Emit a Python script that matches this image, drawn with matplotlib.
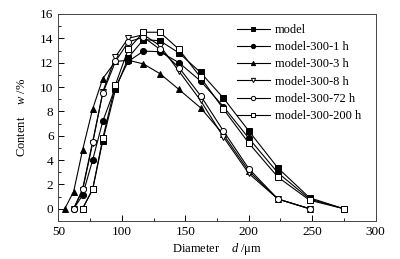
import matplotlib
matplotlib.use("Agg")
import matplotlib.pyplot as plt
from matplotlib.ticker import MultipleLocator

plt.rcParams['font.family'] = ['Liberation Serif', 'DejaVu Serif']
plt.rcParams['mathtext.fontset'] = 'custom'
plt.rcParams['mathtext.it'] = 'Liberation Serif:italic'
plt.rcParams['mathtext.rm'] = 'Liberation Serif'

diameter = [55, 62, 69, 77, 85, 95, 105, 117, 130, 145, 162, 180, 200, 223, 248, 275]

model_x = [69, 77, 85, 95, 105, 117, 130, 145, 162, 180, 200, 223, 248, 275]
model_y = [0, 1.6, 5.6, 9.8, 12.4, 13.9, 13.8, 12.8, 11.2, 9.1, 6.4, 3.35, 0.9, 0]

h1_x = [62, 69, 77, 85, 95, 105, 117, 130, 145, 162, 180, 200, 223, 248, 275]
h1_y = [0, 1.1, 4.0, 7.2, 10.0, 12.1, 12.95, 12.9, 12.0, 10.5, 8.4, 5.8, 2.95, 0.8, 0]

h3_x = [55, 62, 69, 77, 85, 95, 105, 117, 130, 145, 162, 180, 200, 223, 248]
h3_y = [0, 1.4, 4.8, 8.2, 10.7, 12.1, 12.2, 11.9, 11.1, 9.8, 8.3, 6.1, 3.1, 0.8, 0]

h8_x = [62, 69, 77, 85, 95, 105, 117, 130, 145, 162, 180, 200, 223, 248]
h8_y = [0, 1.5, 5.4, 9.6, 12.5, 14.0, 14.3, 13.4, 11.3, 8.9, 5.9, 2.9, 0.8, 0]

h72_x = [62, 69, 77, 85, 95, 105, 117, 130, 145, 162, 180, 200, 223, 248]
h72_y = [0, 1.6, 5.5, 9.5, 12.1, 13.7, 14.1, 13.1, 11.6, 9.3, 6.4, 3.3, 0.8, 0]

h200_x = [69, 77, 85, 95, 105, 117, 130, 145, 162, 180, 200, 223, 248, 275]
h200_y = [0, 1.6, 5.8, 10.2, 13.1, 14.5, 14.5, 13.1, 10.8, 8.2, 5.4, 2.6, 0.7, 0]

labels = ['model', 'model-300-1 h', 'model-300-3 h', 'model-300-8 h',
          'model-300-72 h', 'model-300-200 h']

fig = plt.figure(figsize=(4.0, 2.59), dpi=100)
ax = fig.add_axes([0.146, 0.147, 0.793, 0.799])

lw = 0.8
ms = 4.4
series = [
    (model_x, model_y, dict(marker='s', mfc='black')),
    (h1_x, h1_y, dict(marker='o', mfc='black')),
    (h3_x, h3_y, dict(marker='^', mfc='black')),
    (h8_x, h8_y, dict(marker='v', mfc='white')),
    (h72_x, h72_y, dict(marker='o', mfc='white')),
    (h200_x, h200_y, dict(marker='s', mfc='white')),
]
for (xs, ys, st), lab in zip(series, labels):
    ax.plot(xs, ys, color='black', lw=lw, ms=ms, mec='black', mew=0.7,
            label=lab, **st)

ax.set_xlim(50, 300)
ax.set_ylim(-1, 16)
ax.xaxis.set_major_locator(MultipleLocator(50))
ax.xaxis.set_minor_locator(MultipleLocator(25))
ax.yaxis.set_major_locator(MultipleLocator(2))
ax.yaxis.set_minor_locator(MultipleLocator(1))
ax.tick_params(which='both', direction='in', top=False, right=False,
               labelsize=9.5)
ax.tick_params(which='major', length=4, width=0.7)
ax.tick_params(which='minor', length=2, width=0.6)
for s in ax.spines.values():
    s.set_linewidth(0.7)
    s.set_color('#444444')

ax.set_xlabel('Diameter    $\\it{d}$ /μm', fontsize=9, labelpad=2)
ax.set_ylabel('Content    $\\it{w}$ /%', fontsize=9, labelpad=9)

leg = ax.legend(loc='upper right', frameon=False, fontsize=9,
                handlelength=2.6, handletextpad=0.4, labelspacing=0.42,
                borderaxespad=0.4, bbox_to_anchor=(0.985, 1.0), markerscale=0.7)

fig.savefig('out.png', dpi=100)
